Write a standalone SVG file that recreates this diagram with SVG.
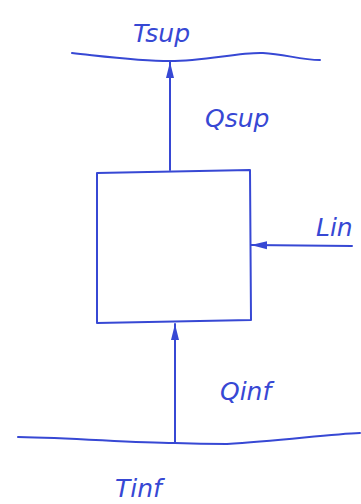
<svg xmlns="http://www.w3.org/2000/svg" width="361" height="504" viewBox="0 0 361 504">
<style>
.ink{fill:none;stroke:#3748d4;stroke-width:2;stroke-linecap:round;stroke-linejoin:round}
.lbl{fill:#3748d4;font-family:"DejaVu Sans",sans-serif;font-style:italic;font-size:25px}
</style>
<defs>
<marker id="ah" viewBox="0 0 16 10" refX="16" refY="5" markerWidth="8" markerHeight="5" orient="auto" markerUnits="strokeWidth">
<path d="M0,1 L16,5 L0,9 Z" fill="#3748d4"/>
</marker>
</defs>
<rect width="361" height="504" fill="#ffffff"/>
<g id="t-sup">
<path class="ink" d="M72,53 C110,57 140,61 170,61 C205,61 240,52 263,53 C285,54 300,60 320,60"/>
<text class="lbl" x="133" y="42">Tsup</text>
</g>
<g id="t-inf">
<path class="ink" d="M18,437 C80,438 130,443 175,443 C200,444 215,444 227,444 C280,441 330,434 360,433"/>
<text class="lbl" x="115" y="497">Tinf</text>
</g>
<g id="box">
<path class="ink" d="M97,173 L250,170 L251,320 L97,323 Z"/>
</g>
<g id="connectors">
<line class="ink" x1="170" y1="170" x2="170" y2="62" marker-end="url(#ah)"/>
<line class="ink" x1="175" y1="443" x2="175" y2="324" marker-end="url(#ah)"/>
<line class="ink" x1="352" y1="246" x2="251" y2="245" marker-end="url(#ah)"/>
</g>
<g id="labels">
<text class="lbl" x="205" y="127">Qsup</text>
<text class="lbl" x="316" y="236">Lin</text>
<text class="lbl" x="220" y="400">Qinf</text>
</g>
</svg>
